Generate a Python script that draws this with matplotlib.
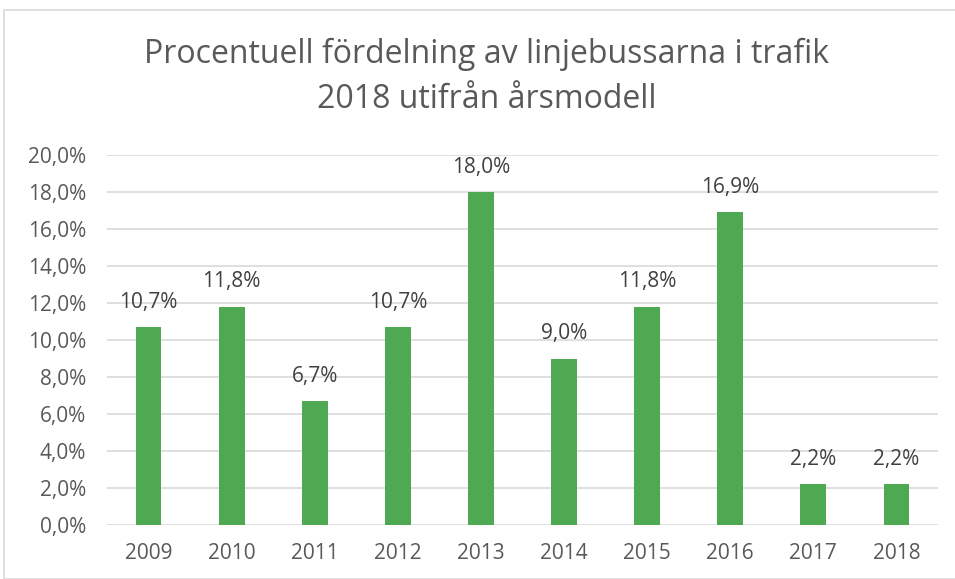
import matplotlib
matplotlib.use("Agg")
import matplotlib.pyplot as plt
from matplotlib.patches import Rectangle

years = ["2009", "2010", "2011", "2012", "2013", "2014", "2015", "2016", "2017", "2018"]
values = [10.7, 11.8, 6.7, 10.7, 18.0, 9.0, 11.8, 16.9, 2.2, 2.2]
yticks = [0, 2, 4, 6, 8, 10, 12, 14, 16, 18, 20]
title = "Procentuell fördelning av linjebussarna i trafik\n2018 utifrån årsmodell"

plt.rcParams['font.family'] = ['Open Sans', 'DejaVu Sans']
W, H = 955, 579
fig = plt.figure(figsize=(W/100, H/100), dpi=100)
fig.patches.append(Rectangle((4/W, 0), 1.0, 1 - 10/H, transform=fig.transFigure,
                             fill=False, edgecolor='#d9d9d9', linewidth=1.2))
ax = fig.add_axes([107/W, 1 - 525/H, (938-107)/W, (525-155)/H])
x = range(len(years))
ax.bar(x, values, width=0.31, color='#4ea952', zorder=3)
ax.set_xlim(-0.5, len(years) - 0.5)
ax.set_ylim(0, 20)
ax.set_yticks(yticks)
ax.set_yticklabels([f"{t:.1f}%".replace('.', ',') for t in yticks])
ax.set_xticks(list(x))
ax.set_xticklabels(years)
ax.grid(axis='y', color='#d9d9d9', linewidth=1.2, zorder=0)
for s in ax.spines.values():
    s.set_visible(False)
ax.tick_params(length=0, colors='#595959', labelsize=15)
ax.tick_params(axis='x', pad=13)
ax.tick_params(axis='y', pad=15)
for i, v in enumerate(values):
    ax.annotate(f"{v:.1f}%".replace('.', ','), (i, v), xytext=(0, 18),
                textcoords='offset points', ha='center', va='center',
                fontsize=15, color='#404040')
fig.text(0.51, 1 - 77/H, title, ha='center', va='center', fontsize=23,
         color='#595959', linespacing=1.45)
fig.savefig("out.png", dpi=100)
